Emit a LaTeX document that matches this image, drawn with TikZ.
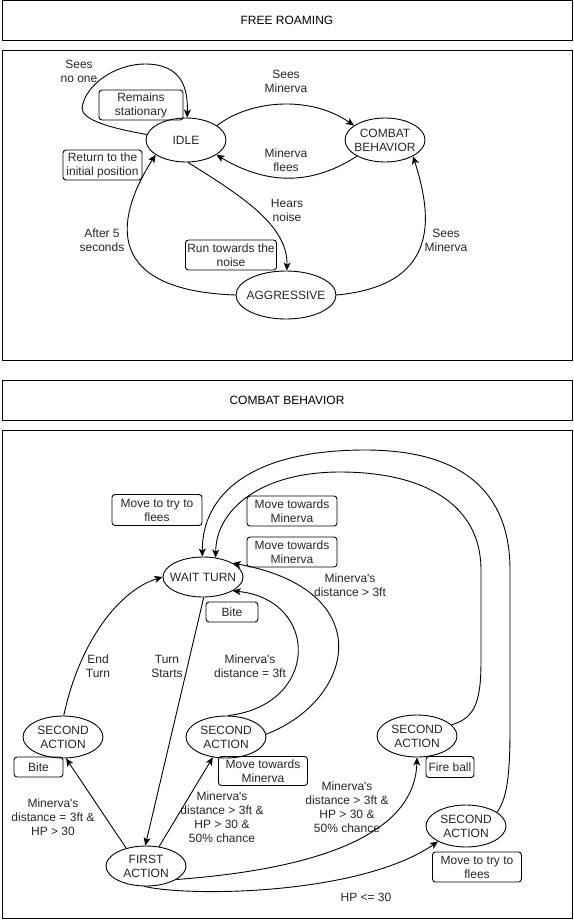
\documentclass[tikz,border=0pt]{standalone}
\usepackage{fontspec}
\setmainfont{Liberation Sans}
\usetikzlibrary{shapes.geometric,arrows.meta}
\newcommand{\aps}{\textquotesingle}
\begin{document}
\begin{tikzpicture}[x=1pt,y=-1pt,
  every node/.style={font=\fontsize{12}{14}\selectfont, align=center, inner sep=0pt, text=black!85},
  st/.style={draw, ellipse, minimum width=80pt, minimum height=42pt, inner xsep=-7pt, line width=0.9pt},
  act/.style={draw, rounded corners=3pt, line width=0.9pt},
  frame/.style={draw, line width=1pt, text=black},
  arr/.style={line width=0.9pt, -{Stealth[length=8pt,width=7pt,inset=2pt]}},
]
\useasboundingbox (0,0) rectangle (573,921);

% ---------- FREE ROAMING ----------
\node[frame, minimum width=570pt, minimum height=40pt] (t1) at (287,20) {FREE ROAMING};
\draw[frame] (2,50) rectangle (572,360);

\node[st, minimum height=44pt] (idle) at (186,140) {IDLE};
\node[st, minimum height=44pt] (combat) at (385,140) {COMBAT\\BEHAVIOR};
\node[st, minimum width=100pt, minimum height=48pt] (agg) at (286,295) {AGGRESSIVE};

\node[act, minimum width=84pt, minimum height=30pt] (rs) at (141,105) {Remains\\stationary};
\node[act, minimum width=79pt, minimum height=30pt] (rt) at (102.5,165) {Return to the\\initial position};
\node[act, minimum width=91pt, minimum height=30pt] (rn) at (231,255) {Run towards the\\noise};

\node (l1) at (79,71) {Sees\\no one};
\node (l2) at (286,81) {Sees\\Minerva};
\node (l3) at (286,160) {Minerva\\flees};
\node (l4) at (287,210) {Hears\\noise};
\node (l5) at (102,240) {After 5\\seconds};
\node (l6) at (446,240) {Sees\\Minerva};

\draw[arr] (idle.172) .. controls (110,128) and (82,120) .. (82,108)
  .. controls (85,85) and (115,64) .. (145,64) .. controls (183,64) and (188,90) .. (idle.87);
\draw[arr] (idle.25) .. controls (250,100) and (310,95) .. (combat.155);
\draw[arr] (combat.210) .. controls (320,180) and (275,190) .. (idle.334);
\draw[arr] (idle.275) .. controls (240,195) and (288,225) .. (agg.88);
\draw[arr] (agg.west) .. controls (95,290) and (120,210) .. (idle.206);
\draw[arr] (agg.east) .. controls (445,285) and (430,210) .. (combat.330);

% ---------- COMBAT BEHAVIOR ----------
\node[frame, minimum width=570pt, minimum height=40pt] (t2) at (287,400) {COMBAT BEHAVIOR};
\draw[frame] (2,430) rectangle (572,918);

\node[st, minimum height=40pt] (wt) at (203,577) {WAIT TURN};
\node[st] (sa1) at (63,737) {SECOND\\ACTION};
\node[st] (sa2) at (226,737) {SECOND\\ACTION};
\node[st] (sa3) at (417,736) {SECOND\\ACTION};
\node[st] (sa4) at (466,826) {SECOND\\ACTION};
\node[st, minimum height=40pt] (fa) at (146,866) {FIRST\\ACTION};

\node[act, minimum width=90pt, minimum height=31pt] (b1) at (157,510) {Move to try to\\flees};
\node[act, minimum width=90pt, minimum height=30pt] (b2) at (292,511) {Move towards\\Minerva};
\node[act, minimum width=90pt, minimum height=30pt] (b3) at (292,552) {Move towards\\Minerva};
\node[act, minimum width=52pt, minimum height=20pt] (b4) at (232,612) {Bite};
\node[act, minimum width=49pt, minimum height=20pt] (b5) at (38.5,767) {Bite};
\node[act, minimum width=89pt, minimum height=29pt] (b6) at (263,771) {Move towards\\Minerva};
\node[act, minimum width=48pt, minimum height=21pt] (b7) at (450,767) {Fire ball};
\node[act, minimum width=89pt, minimum height=30pt] (b8) at (477,867) {Move to try to\\flees};

\node (m1) at (98,666) {End\\Turn};
\node (m2) at (167,666) {Turn\\Starts};
\node (m3) at (250,666) {Minerva\aps s\\distance = 3ft};
\node (m4) at (350,585) {Minerva\aps s\\distance > 3ft};
\node (m5) at (53,817) {Minerva\aps s\\distance = 3ft \&\\HP > 30};
\node (m6) at (222,817) {Minerva\aps s\\distance > 3ft \&\\HP > 30 \&\\50\% chance};
\node (m7) at (347,807) {Minerva\aps s\\distance > 3ft \&\\HP > 30 \&\\ 50\% chance};
\node (m8) at (366,897) {HP <= 30};

\draw[arr] (sa1.88) .. controls (80,640) and (120,590) .. (wt.180);
\draw[arr] (wt.272) -- (fa.92);
\draw[arr] (sa2.85) .. controls (320,705) and (320,600) .. (wt.335);
\draw[arr] (sa2.4) .. controls (355,700) and (380,590) .. (wt.25);
\draw[arr] (sa3.18) .. controls (476,718) and (481,700) .. (481,660) -- (481,570)
  .. controls (481,505) and (425,472) .. (340,472) .. controls (260,472) and (216,510) .. (wt.57);
\draw[arr] (sa4.24) .. controls (506,800) and (510,780) .. (510,730) -- (510,570)
  .. controls (510,490) and (460,450) .. (365,450) .. controls (250,450) and (202,495) .. (wt.92);
\draw[arr] (fa.138) -- (sa1.278);
\draw[arr] (fa.56) -- (sa2.237);
\draw[arr] (fa.336) .. controls (330,868) and (415,830) .. (sa3.270);
\draw[arr] (fa.265) .. controls (190,897) and (360,895) .. (sa4.209);
\end{tikzpicture}
\end{document}
